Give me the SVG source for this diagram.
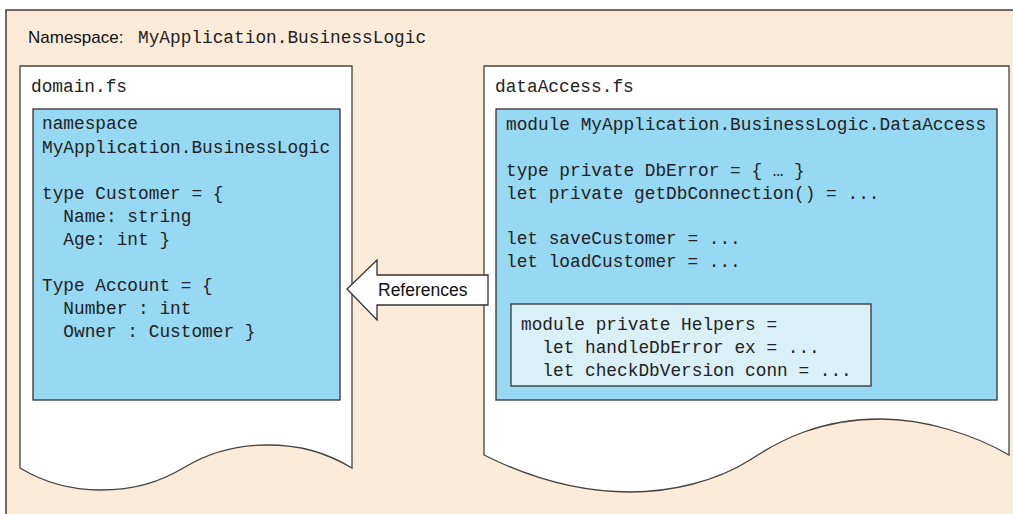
<svg xmlns="http://www.w3.org/2000/svg" width="1013" height="514" viewBox="0 0 1013 514">
<style>
.doc{fill:#ffffff;stroke:#444;stroke-width:1.3}
.code{fill:#97d8f2;stroke:#333;stroke-width:1.3}
.help{fill:#daf0f7;stroke:#333;stroke-width:1.3}
.mono{font-family:"Liberation Mono",monospace;font-size:17.8px;fill:#222}
.sans{font-family:"Liberation Sans",Arial,sans-serif;fill:#111}
</style>
<g id="namespace">
<rect x="6" y="10" width="1030" height="530" fill="#fcebd8" stroke="#222" stroke-width="1.3"/>
<text x="28" y="43" class="sans" font-size="17">Namespace:</text>
<text x="138" y="43" class="mono">MyApplication.BusinessLogic</text>
</g>
<g id="domain">
<path class="doc" d="M20,66 H352 V468 C325,452 300,445 267,445 C230,445 205,455 185,467 C160,482 135,490 100,490 C65,490 40,480 20,468 Z"/>
<text x="31" y="92" class="mono">domain.fs</text>
<rect class="code" x="33" y="109" width="307" height="291"/>
<text class="mono" xml:space="preserve"><tspan x="42" y="129">namespace</tspan><tspan x="42" y="153">MyApplication.BusinessLogic</tspan><tspan x="42" y="199">type Customer = {</tspan><tspan x="42" y="222">  Name: string</tspan><tspan x="42" y="245">  Age: int }</tspan><tspan x="42" y="291">Type Account = {</tspan><tspan x="42" y="314">  Number : int</tspan><tspan x="42" y="337">  Owner : Customer }</tspan></text>
</g>
<g id="dataAccess">
<path class="doc" d="M484,66 H1009 V455 C975,435 925,419 881,419 C820,419 780,440 750,460 C715,482 670,492 630,492 C580,492 530,478 484,455 Z"/>
<text x="495" y="92" class="mono">dataAccess.fs</text>
<rect class="code" x="496" y="109" width="501" height="291"/>
<text class="mono" xml:space="preserve"><tspan x="506" y="130">module MyApplication.BusinessLogic.DataAccess</tspan><tspan x="506" y="176">type private DbError = { … }</tspan><tspan x="506" y="199">let private getDbConnection() = ...</tspan><tspan x="506" y="244">let saveCustomer = ...</tspan><tspan x="506" y="267">let loadCustomer = ...</tspan></text>
</g>
<g id="helpers">
<rect class="help" x="511" y="304" width="360" height="82"/>
<text class="mono" xml:space="preserve"><tspan x="521" y="330">module private Helpers =</tspan><tspan x="521" y="353">  let handleDbError ex = ...</tspan><tspan x="521" y="376">  let checkDbVersion conn = ...</tspan></text>
</g>
<g id="connectors">
<polygon points="347,289 377,260 377,275 488,275 488,305 377,305 377,320" fill="#ffffff" stroke="#333" stroke-width="1.3"/>
<text x="378" y="296" class="sans" font-size="17.5">References</text>
</g>
</svg>
